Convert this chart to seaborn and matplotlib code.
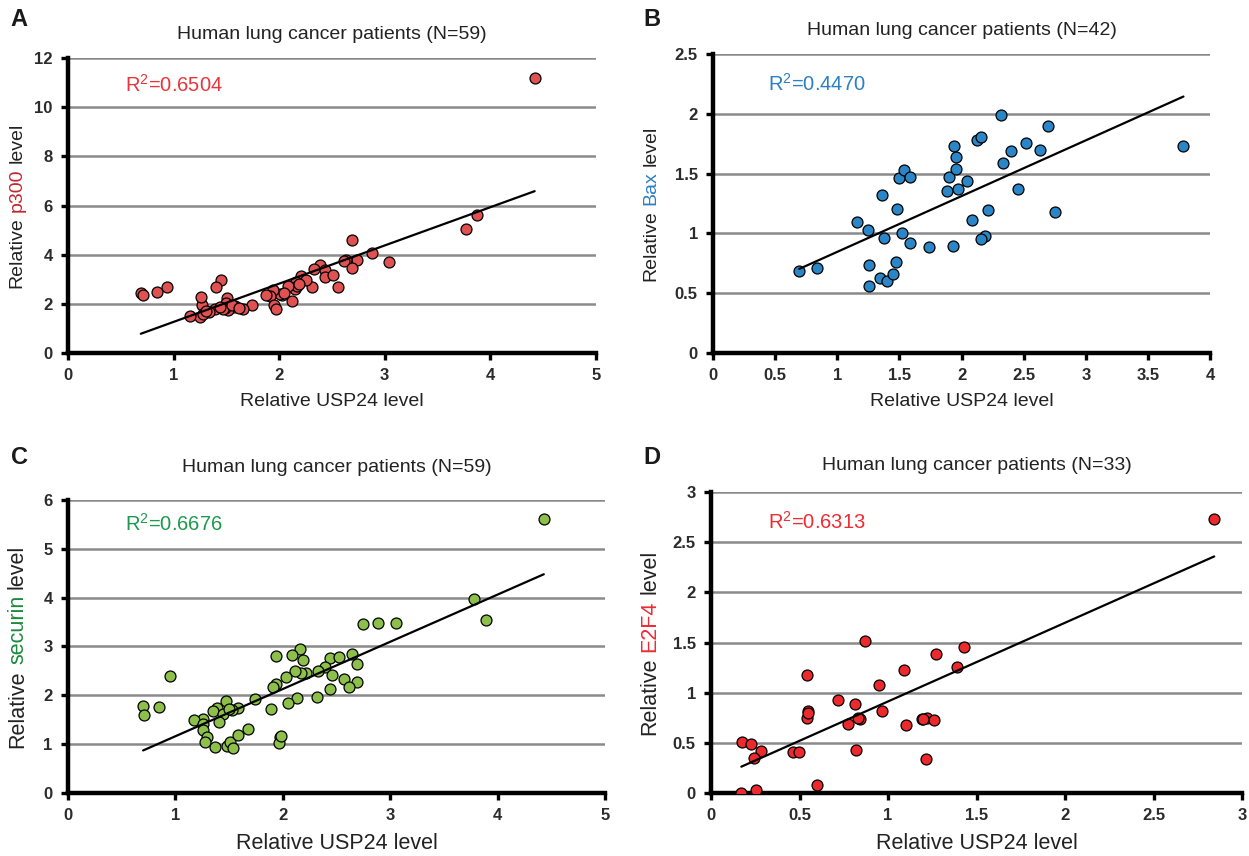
#!/usr/bin/env python3
"""
USP24 vs p300 / Bax / securin / E2F4 in human lung cancer patients.
Four scatter panels with linear trendline, saved to out.png.
"""

import numpy as np
import pandas as pd
import matplotlib
matplotlib.use("Agg")
import matplotlib.pyplot as plt
import seaborn as sns

# ------------------------- data ------------------------- #
# A: USP24 vs p300 (N=59)
usp24_a = [4.42, 3.875, 3.77, 2.69, 2.88, 3.04, 2.74, 2.63, 2.61, 2.69, 2.39, 2.33, 2.43, 2.43,
           2.51, 2.56, 2.31, 2.21, 2.16, 2.15, 2.17, 2.08, 2.12, 2.03, 2.01, 1.94, 1.91, 1.875,
           1.95, 1.97, 1.74, 1.66, 1.585, 1.57, 1.52, 1.49, 1.51, 1.50, 1.47, 1.45, 1.40, 1.39,
           1.34, 1.27, 1.26, 1.25, 1.28, 1.155, 0.94, 0.84, 0.69, 0.71, 1.55, 1.62, 2.05, 2.25,
           1.31, 1.44, 2.19]
p300_a = [11.19, 5.60, 5.04, 4.61, 4.07, 3.72, 3.78, 3.80, 3.73, 3.46, 3.58, 3.42, 3.39, 3.09,
          3.17, 2.70, 2.70, 3.15, 2.90, 2.62, 2.74, 2.71, 2.10, 2.37, 2.41, 2.58, 2.33, 2.37,
          1.97, 1.80, 1.95, 1.79, 1.93, 1.86, 1.74, 1.83, 2.22, 2.03, 1.79, 2.98, 2.70, 1.79,
          1.67, 1.97, 2.29, 1.46, 1.60, 1.52, 2.70, 2.47, 2.43, 2.35, 1.95, 1.85, 2.45, 2.95,
          1.72, 1.88, 2.80]

# B: USP24 vs Bax (N=42)
usp24_b = [0.694, 0.834, 1.158, 1.247, 1.257, 1.252, 1.34, 1.362, 1.378, 1.402, 1.45, 1.472,
           1.483, 1.50, 1.533, 1.523, 1.582, 1.582, 1.737, 1.885, 1.903, 1.936, 1.957, 1.957,
           1.973, 1.933, 2.046, 2.086, 2.123, 2.158, 2.185, 2.158, 2.212, 2.316, 2.332, 2.397,
           2.453, 2.517, 2.633, 2.692, 2.751, 3.786]
bax_b = [0.687, 0.715, 1.092, 1.028, 0.732, 0.561, 0.631, 1.318, 0.964, 0.60, 0.659, 0.757,
         1.204, 1.461, 1.531, 1.0, 1.469, 0.922, 0.883, 1.355, 1.472, 1.732, 1.64, 1.536,
         1.374, 0.897, 1.436, 1.112, 1.777, 1.81, 0.98, 0.953, 1.196, 1.986, 1.592, 1.693,
         1.372, 1.754, 1.70, 1.897, 1.182, 1.732]

# C: USP24 vs securin (N=59)
usp24_c = [4.43, 3.78, 3.89, 2.75, 2.89, 3.05, 2.163, 2.09, 1.94, 2.19, 2.44, 2.52, 2.64, 2.69,
           2.395, 2.33, 2.22, 2.17, 2.11, 2.03, 2.46, 2.57, 2.69, 2.62, 2.44, 1.94, 1.91, 2.32,
           2.13, 2.05, 1.89, 1.745, 1.58, 1.53, 1.47, 1.387, 1.354, 1.44, 1.41, 1.26, 1.17,
           1.26, 1.26, 1.29, 1.28, 1.37, 1.48, 1.51, 1.54, 1.58, 1.675, 1.97, 1.964, 0.95, 0.85,
           0.70, 0.71, 1.98, 1.50]
securin_c = [5.62, 3.97, 3.54, 3.46, 3.48, 3.48, 2.94, 2.83, 2.80, 2.72, 2.77, 2.78, 2.84, 2.65,
             2.59, 2.50, 2.46, 2.46, 2.50, 2.38, 2.41, 2.34, 2.27, 2.17, 2.12, 2.24, 2.17, 1.97,
             1.95, 1.85, 1.71, 1.92, 1.74, 1.70, 1.89, 1.75, 1.68, 1.62, 1.45, 1.51, 1.50, 1.41,
             1.29, 1.14, 1.05, 0.94, 0.96, 1.05, 0.92, 1.19, 1.32, 1.14, 1.03, 2.39, 1.77, 1.79,
             1.60, 1.16, 1.72]

# D: USP24 vs E2F4 (N=33)
usp24_d = [2.843, 1.431, 1.272, 1.388, 1.093, 0.867, 0.95, 0.964, 0.815, 0.72, 0.839, 0.771,
           0.819, 1.103, 1.193, 1.219, 1.26, 1.215, 0.541, 0.547, 0.543, 0.465, 0.495, 0.60,
           0.173, 0.225, 0.282, 0.245, 0.254, 0.171, 1.20, 0.83, 0.55]
e2f4_d = [2.733, 1.457, 1.383, 1.257, 1.227, 1.513, 1.073, 0.817, 0.89, 0.927, 0.74, 0.687,
          0.43, 0.677, 0.733, 0.747, 0.727, 0.34, 1.177, 0.817, 0.747, 0.41, 0.41, 0.077,
          0.513, 0.493, 0.423, 0.353, 0.033, 0.0, 0.74, 0.75, 0.80]

r2_text = [r"R$\mathregular{^2}$=0.6504", r"R$\mathregular{^2}$=0.4470",
           r"R$\mathregular{^2}$=0.6676", r"R$\mathregular{^2}$=0.6313"]
titles = ["Human lung cancer patients (N=59)", "Human lung cancer patients (N=42)",
          "Human lung cancer patients (N=59)", "Human lung cancer patients (N=33)"]
markers_gene = ["p300", "Bax", "securin", "E2F4"]

# ------------------------- style ------------------------- #
sns.set_theme(style="white")
plt.rcParams["font.family"] = ["Liberation Sans", "DejaVu Sans"]
plt.rcParams["mathtext.fontset"] = "custom"
plt.rcParams["mathtext.rm"] = "Liberation Sans"

GRID = "#8a8a8a"
TICK = "#2b2b2b"


def fmt(v, pos):
    return f"{v:g}"


def color_ylabel(ax, parts, xfrac, fs):
    # stack rotated text pieces bottom->top, centred on the axes
    fig = ax.figure
    r = fig.canvas.get_renderer()
    gap = 0.278 * fs * fig.dpi / 72
    texts = []
    for s, c in parts:
        t = ax.text(xfrac, 0.5, s, color=c, rotation=90, fontsize=fs,
                    ha="center", va="bottom", transform=ax.transAxes)
        texts.append(t)
    hs = [t.get_window_extent(r).height for t in texts]
    total = sum(hs) + gap * (len(hs) - 1)
    bb = ax.get_window_extent(r)
    y = bb.y0 + bb.height / 2 - total / 2
    inv = ax.transAxes.inverted()
    for t, h in zip(texts, hs):
        t.set_y(inv.transform((0, y))[1])
        y += h + gap


def panel(ax, x, y, fill, xmax, xstep, ymax, ystep, title, r2, r2c, gene, genec,
          lab_fs, ylab_x, title_pad=14, r2_pos=(0.108, 0.91)):
    df = pd.DataFrame({"x": x, "y": y})
    sns.regplot(data=df, x="x", y="y", ax=ax, ci=None, truncate=True,
                scatter_kws=dict(s=62, color=fill, edgecolor="black", linewidths=0.9,
                                 alpha=1, zorder=3),
                line_kws=dict(color="black", lw=1.6, zorder=4))
    ax.set_xlim(0, xmax)
    ax.set_ylim(0, ymax)
    ax.set_xticks(np.arange(0, xmax + 1e-9, xstep))
    ax.set_yticks(np.arange(0, ymax + 1e-9, ystep))
    ax.xaxis.set_major_formatter(fmt)
    ax.yaxis.set_major_formatter(fmt)
    ax.grid(axis="y", color=GRID, lw=1.8)
    ax.grid(axis="x", visible=False)
    ax.set_axisbelow(True)
    for s in ["top", "right"]:
        ax.spines[s].set_visible(False)
    for s in ["left", "bottom"]:
        ax.spines[s].set_color("black")
        ax.spines[s].set_linewidth(3.2)
        ax.spines[s].set_zorder(2.5)
    ax.tick_params(axis="both", which="major", direction="out", length=5, width=2.4,
                   color="black", labelsize=12, labelcolor=TICK, pad=6,
                   left=True, bottom=True)
    for lbl in ax.get_xticklabels() + ax.get_yticklabels():
        lbl.set_fontweight("bold")
    ax.set_title(title, fontsize=14, pad=title_pad, color="#222222")
    ax.set_xlabel("Relative USP24 level", fontsize=lab_fs, labelpad=7, color="#222222")
    ax.set_ylabel("")
    ax.text(r2_pos[0], r2_pos[1], r2, color=r2c, fontsize=14.5, ha="left", va="center",
            transform=ax.transAxes)
    return (ax, [("Relative", "#222222"), (gene, genec), ("level", "#222222")], ylab_x, lab_fs)


# ------------------------- figure ------------------------- #
fig = plt.figure(figsize=(12.49, 8.56), dpi=100)
axA = fig.add_axes([0.0544, 0.5876, 0.4227, 0.3446])
axB = fig.add_axes([0.5709, 0.5876, 0.3979, 0.3493])
axC = fig.add_axes([0.0544, 0.0736, 0.4300, 0.3423])
axD = fig.add_axes([0.5693, 0.0736, 0.4251, 0.3516])

labs = []
labs.append(panel(axA, usp24_a, p300_a, "#e05152", 5, 1, 12, 2, titles[0], r2_text[0],
                  "#e8353b", markers_gene[0], "#c0272d", 14, -0.097))
labs.append(panel(axB, usp24_b, bax_b, "#2b86c8", 4, 0.5, 2.5, 0.5, titles[1], r2_text[1],
                  "#2b7fc4", markers_gene[1], "#2b7fc4", 14, -0.125, r2_pos=(0.11, 0.90)))
labs.append(panel(axC, usp24_c, securin_c, "#8cc04b", 5, 1, 6, 1, titles[2], r2_text[2],
                  "#1c9a4c", markers_gene[2], "#1a8a3c", 15.5, -0.094, title_pad=20,
                  r2_pos=(0.106, 0.918)))
labs.append(panel(axD, usp24_d, e2f4_d, "#ec2a2e", 3, 0.5, 3, 0.5, titles[3], r2_text[3],
                  "#ee2b33", markers_gene[3], "#ee2b33", 15.5, -0.115, title_pad=16,
                  r2_pos=(0.108, 0.90)))

fig.canvas.draw()
for ax, parts, xf, fs in labs:
    color_ylabel(ax, parts, xf, fs)

for letter, (x, y) in zip("ABCD", [(19, 20), (652, 20), (19, 457), (652, 457)]):
    fig.text(x / 1249, 1 - y / 856, letter, fontsize=17, fontweight="bold",
             ha="center", va="center", color="#1a1a1a")

fig.savefig("out.png", dpi=100)
